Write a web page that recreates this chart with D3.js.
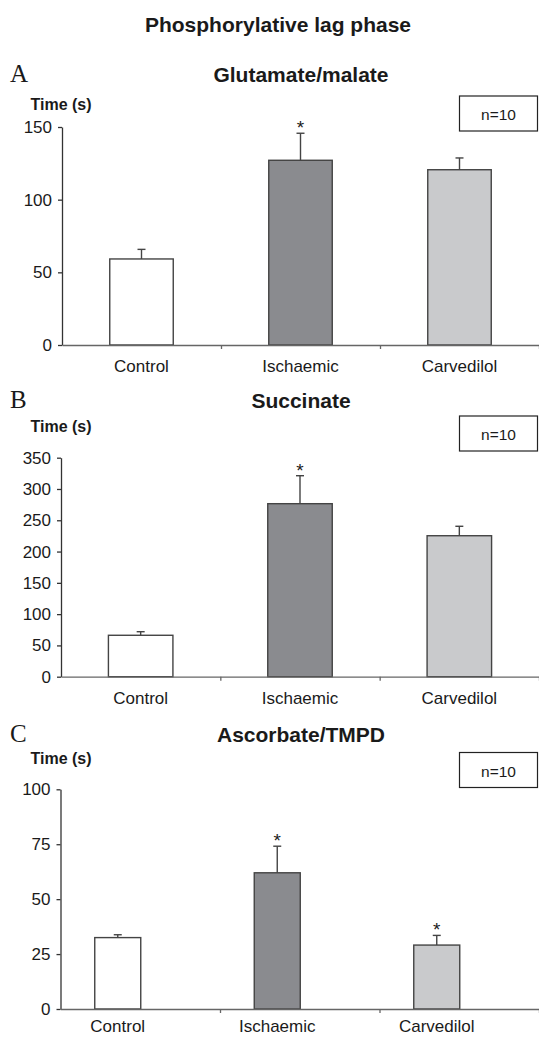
<!DOCTYPE html>
<html lang="en">
  <head>
    <meta charset="UTF-8" />
    <title>Phosphorylative lag phase</title>
    <script src="https://d3js.org/d3.v7.min.js"></script>
    <style>
      body { margin: 0; background: #fff; }
      text { font-family: "Liberation Sans", Arial, sans-serif; fill: #1a1a1a; }
      .letter { font-family: "Liberation Serif", "Times New Roman", serif; }
    </style>
  </head>
  <body>
    <svg width="539" height="1037"></svg>
    <script>
      // data
      var categories = ["Control", "Ischaemic", "Carvedilol"];
      var barColors = ["#ffffff", "#8a8b8f", "#c9cacc"];

      var glutMean = [59.2, 127.1, 120.6];
      var glutErr = [6.6, 18.6, 8.1];
      var glutStar = [false, true, false];
      var glutTicks = [0, 50, 100, 150];

      var succMean = [66.2, 276.5, 225.3];
      var succErr = [5.7, 44.7, 15.1];
      var succStar = [false, true, false];
      var succTicks = [0, 50, 100, 150, 200, 250, 300, 350];

      var ascMean = [32.5, 62.0, 29.1];
      var ascErr = [1.3, 12.1, 4.4];
      var ascStar = [false, true, true];
      var ascTicks = [0, 25, 50, 75, 100];

      var svg = d3.select("svg");

      svg.append("text")
        .attr("x", 278)
        .attr("y", 31.5)
        .attr("text-anchor", "middle")
        .attr("font-size", "21px")
        .attr("font-weight", "bold")
        .text("Phosphorylative lag phase");

      var panels = [
        { letter: "A", title: "Glutamate/malate", mean: glutMean, err: glutErr, star: glutStar, ticks: glutTicks,
          titleY: 82, timeY: 110, top: 127, bottom: 345, axisX: 62, barW: 63.5, shift: 0, box: 96, labelDy: 27 },
        { letter: "B", title: "Succinate", mean: succMean, err: succErr, star: succStar, ticks: succTicks,
          titleY: 408, timeY: 432, top: 457.7, bottom: 676.7, axisX: 61, barW: 64.5, shift: 0, box: 416, labelDy: 27 },
        { letter: "C", title: "Ascorbate/TMPD", mean: ascMean, err: ascErr, star: ascStar, ticks: ascTicks,
          titleY: 742, timeY: 764, top: 789.3, bottom: 1009, axisX: 60.5, barW: 46, shift: -22.5, box: 752.5, labelDy: 23 }
      ];

      panels.forEach(function (p) {
        var g = svg.append("g");
        var xEnd = 539;

        var y = d3.scaleLinear()
          .domain([0, d3.max(p.ticks)])
          .range([p.bottom, p.top]);

        // band scale for the marks (panel C is drawn a bit left of the band centres)
        var xMark = d3.scaleBand().domain(categories).range([p.axisX + p.shift, xEnd + p.shift]).padding(0);
        var cx = function (c) { return xMark(c) + xMark.bandwidth() / 2; };

        g.append("text")
          .attr("class", "letter")
          .attr("x", 10)
          .attr("y", p.titleY)
          .attr("font-size", "25px")
          .text(p.letter);

        g.append("text")
          .attr("x", 301)
          .attr("y", p.titleY)
          .attr("text-anchor", "middle")
          .attr("font-size", "21px")
          .attr("font-weight", "bold")
          .text(p.title);

        g.append("text")
          .attr("x", 30.5)
          .attr("y", p.timeY)
          .attr("font-size", "16px")
          .attr("font-weight", "bold")
          .text("Time (s)");

        g.append("rect")
          .attr("x", 459.5)
          .attr("y", p.box)
          .attr("width", 78)
          .attr("height", 35)
          .attr("fill", "#fff")
          .attr("stroke", "#222")
          .attr("stroke-width", 1.2);

        g.append("text")
          .attr("x", 498.5)
          .attr("y", p.box + 24)
          .attr("text-anchor", "middle")
          .attr("font-size", "15.5px")
          .text("n=10");

        var data = categories.map(function (c, i) {
          return { cat: c, mean: p.mean[i], err: p.err[i], star: p.star[i], fill: barColors[i] };
        });

        // bars
        g.selectAll(".bar")
          .data(data)
          .enter()
          .append("rect")
          .attr("class", "bar")
          .attr("x", function (d) { return cx(d.cat) - p.barW / 2; })
          .attr("y", function (d) { return y(d.mean); })
          .attr("width", p.barW)
          .attr("height", function (d) { return y(0) - y(d.mean); })
          .attr("fill", function (d) { return d.fill; })
          .attr("stroke", "#444")
          .attr("stroke-width", 1.4);

        // error bars (upper only)
        var eb = g.selectAll(".err").data(data).enter().append("g").attr("class", "err")
          .attr("stroke", "#444").attr("stroke-width", 1.4);
        eb.append("line")
          .attr("x1", function (d) { return cx(d.cat); })
          .attr("x2", function (d) { return cx(d.cat); })
          .attr("y1", function (d) { return y(d.mean); })
          .attr("y2", function (d) { return y(d.mean + d.err); });
        eb.append("line")
          .attr("x1", function (d) { return cx(d.cat) - 4; })
          .attr("x2", function (d) { return cx(d.cat) + 4; })
          .attr("y1", function (d) { return y(d.mean + d.err); })
          .attr("y2", function (d) { return y(d.mean + d.err); });

        g.selectAll(".star")
          .data(data.filter(function (d) { return d.star; }))
          .enter()
          .append("text")
          .attr("class", "star")
          .attr("x", function (d) { return cx(d.cat); })
          .attr("y", function (d) { return y(d.mean + d.err) + 1; })
          .attr("text-anchor", "middle")
          .attr("font-size", "19px")
          .attr("fill", "#333")
          .text("*");

        // y axis
        var yAxis = g.append("g")
          .attr("transform", "translate(" + p.axisX + ",0)")
          .call(d3.axisLeft(y).tickValues(p.ticks).tickSize(4).tickPadding(6).tickSizeOuter(0));
        yAxis.selectAll("path, line").attr("stroke", "#333").attr("stroke-width", 1.3);
        yAxis.selectAll("text")
          .attr("font-size", "17px")
          .attr("font-family", "'Liberation Sans', Arial, sans-serif")
          .attr("fill", "#1a1a1a");

        // x axis: line with ticks at category boundaries
        var xEdge = d3.scaleLinear().domain([0, categories.length]).range([p.axisX, xEnd]);
        var xAxis = g.append("g")
          .attr("transform", "translate(0," + p.bottom + ")")
          .call(d3.axisBottom(xEdge).tickValues([1, 2, 3]).tickFormat("").tickSize(4).tickSizeOuter(0));
        xAxis.selectAll("path, line").attr("stroke", "#666").attr("stroke-width", 1.3);

        g.selectAll(".cat")
          .data(categories)
          .enter()
          .append("text")
          .attr("class", "cat")
          .attr("x", function (c) { return cx(c); })
          .attr("y", p.bottom + p.labelDy)
          .attr("text-anchor", "middle")
          .attr("font-size", "17px")
          .text(function (c) { return c; });
      });
    </script>
  </body>
</html>
